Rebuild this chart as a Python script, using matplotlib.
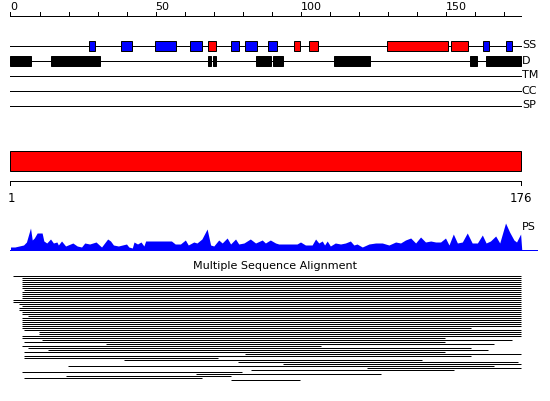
import matplotlib
matplotlib.use("Agg")
import matplotlib.pyplot as plt
from matplotlib.patches import Rectangle

# ---------------- data ----------------
seq_len = 176
ruler_ticks = list(range(0, 171, 10))
ruler_labels = [0, 50, 100, 150]

track_names = ["SS", "D", "TM", "CC", "SP"]
strands = [(27, 29.2), (38, 42), (49.8, 57.1), (61.8, 66.1), (76, 78.9),
           (80.8, 85), (88.7, 92), (162.9, 164.9), (170.8, 173)]
helices = [(68, 71), (97.7, 99.8), (102.9, 106), (129.8, 150.8), (151.8, 157.7)]
disorder = [(0, 7.2), (13.8, 30.9), (68, 69), (69.7, 71), (84.8, 89.9),
            (90.6, 94), (111.7, 124.1), (158.6, 160.9), (163.8, 176)]

domain = (0, 176)
domain_labels = ["1", "176"]

ps_pos = [0, 1.5, 3, 4.5, 5.5, 6.9, 7.5, 8.2, 9.2, 10.9, 11.5, 12.5, 13.8, 14.8,
          16, 16.5, 17.6, 19, 21.5, 23, 24.5, 25.6, 27.3, 29.5, 31, 31.4, 33.5,
          34.5, 35.5, 37.2, 40, 40.8, 42, 42.6, 43.8, 45, 46, 46.6, 47.7, 50,
          51, 55.5, 56.8, 58.6, 60.3, 61.3, 63.2, 64.3, 66, 67.8, 69, 70.1, 71.8,
          73, 74.7, 75.9, 77.6, 78.7, 80.5, 82.7, 84.5, 86.8, 87.9, 89.6, 91.4,
          92.5, 98.8, 100, 101.7, 104, 105.2, 106.3, 107.5, 108.3, 109.2, 110.3,
          112, 113.8, 115.5, 117.2, 118.4, 119.5, 121.3, 123.6, 125.9, 128.2,
          130.5, 132.8, 134.5, 136.2, 138, 139.7, 141.4, 143.1, 144.9, 146.6,
          148.3, 150, 151.2, 152.7, 154.1, 155.8, 157.5, 159.2, 161, 162.7, 164,
          165.5, 167.3, 168.7, 170.7, 172.1, 173.6, 174.5, 175.9, 176.3]
ps_val = [3, 3, 4, 5, 8, 22, 10, 12, 17, 17, 9, 7, 11, 7,
          8, 5, 9, 4, 7, 4, 3, 7, 6, 8, 4, 3, 11,
          9, 5, 4, 6, 3, 2, 8, 6, 8, 4, 9, 9, 9,
          9, 9, 6, 6, 10, 5, 8, 7, 11, 21, 5, 4, 10,
          7, 12, 6, 11, 6, 7, 11, 7, 10, 7, 10, 7,
          6, 6, 8, 5, 5, 11, 7, 9, 5, 9, 4,
          7, 6, 7, 9, 5, 6, 3, 6, 7, 7,
          5, 8, 7, 10, 12, 7, 13, 8, 9, 8,
          8, 12, 5, 16, 7, 8, 17, 7, 7, 15, 7,
          9, 14, 7, 27, 18, 10, 8, 16, 0]

msa_rows = [
    [(0.7, 176)], [(3.8, 176)], [(3.8, 176)], [(4, 176)], [(4, 176)],
    [(3.8, 176)], [(4, 176)], [(4.8, 176)], [(4, 176)], [(3.8, 176)],
    [(4, 176)], [(3.8, 176)], [(0.7, 176)], [(0.7, 176)], [(3, 176)],
    [(3.8, 176)], [(2.8, 176)], [(3, 176)], [(3.8, 176)], [(3.8, 176)],
    [(5.9, 176)], [(3.8, 176)], [(3.8, 176)], [(3.8, 176)], [(3.8, 176)],
    [(4, 176)], [(3.8, 158.9)], [(4.8, 176)], [(9.7, 176)], [(9.7, 176)],
    [(3.8, 176)], [(3.8, 149.7)], [(10.7, 173)], [(4.8, 149.7)], [(32.8, 166.6)],
    [(3.8, 106.9)], [(5.9, 158.9)], [(13.1, 164.8)], [(4.8, 149.7)], [(80.7, 176)],
    [(4.8, 158.9)], [(4.8, 71.7)], [(39, 142)], [(78.6, 175)], [(93.8, 176)],
    [(19.7, 166.6)], [(122.8, 176)], [(82.8, 152.8)], [(3.8, 79.9)], [(63.8, 127.6)],
    [(19, 75.9)], [(4.8, 66.1)], [(75.9, 99.7)],
]

# ---------------- layout ----------------
W, H = 550, 401
px_per_res = 2.9
x0_px = 10
fig = plt.figure(figsize=(W / 100, H / 100), dpi=100)
ax = fig.add_axes([0, 0, 1, 1])
# half-pixel offsets so 1px lines land on pixel centres
ax.set_xlim(-(x0_px + 0.5) / px_per_res, (W - x0_px - 0.5) / px_per_res)
ax.set_ylim(H - 0.5, -0.5)
ax.axis("off")
lw = 0.72
fs = 8
blue = "#0000ff"
red = "#ff0000"

# top ruler
ruler_y = 15
ax.plot([0, seq_len], [ruler_y, ruler_y], color="black", lw=lw)
for t in ruler_ticks:
    ax.plot([t, t], [ruler_y, ruler_y - 3.5], color="black", lw=lw)
for t in ruler_labels:
    ax.text(t, ruler_y - 4, str(t), ha="left", va="bottom", fontsize=fs,
            color="black")

# tracks
track_y = [45, 60, 75, 90, 105]
for name, y in zip(track_names, track_y):
    ax.plot([0, seq_len], [y, y], color="black", lw=lw)
    ax.text(seq_len + 0.3, y, name, ha="left", va="center", fontsize=fs)

def boxes(ranges, y, color):
    for a, b in ranges:
        ax.add_patch(Rectangle((a, y - 5), b - a, 10, facecolor=color,
                               edgecolor="black", lw=lw, zorder=3))

boxes(strands, track_y[0], blue)
boxes(helices, track_y[0], red)
boxes(disorder, track_y[1], "black")

# domain bar
ax.add_patch(Rectangle((domain[0], 150), domain[1] - domain[0], 20,
                       facecolor=red, edgecolor="black", lw=lw))
ax.plot([domain[0], domain[1]], [180, 180], color="black", lw=lw)
for p in domain:
    ax.plot([p, p], [180, 184], color="black", lw=lw)
ax.text(domain[0] + 0.3, 191, domain_labels[0], ha="center", va="top", fontsize=fs + 0.5)
ax.text(domain[1], 191, domain_labels[1], ha="center", va="top", fontsize=fs + 0.5)

# PS profile
base = 249.5
ax.fill_between(ps_pos, [base] * len(ps_pos), [base - v for v in ps_val],
                color=blue, lw=0)
ax.plot([0, seq_len + 5.5], [base, base], color=blue, lw=lw)
ax.text(seq_len + 0.5, 226, "PS", ha="left", va="center", fontsize=fs)

# MSA
ax.text(0.5, 1 - 266 / H, "Multiple Sequence Alignment", transform=ax.transAxes,
        ha="center", va="center", fontsize=fs)
for i, row in enumerate(msa_rows):
    y = 275 + 2 * i
    for a, b in row:
        ax.plot([a, b], [y, y], color="black", lw=lw, solid_capstyle="butt")

fig.savefig("out.png", dpi=100)
